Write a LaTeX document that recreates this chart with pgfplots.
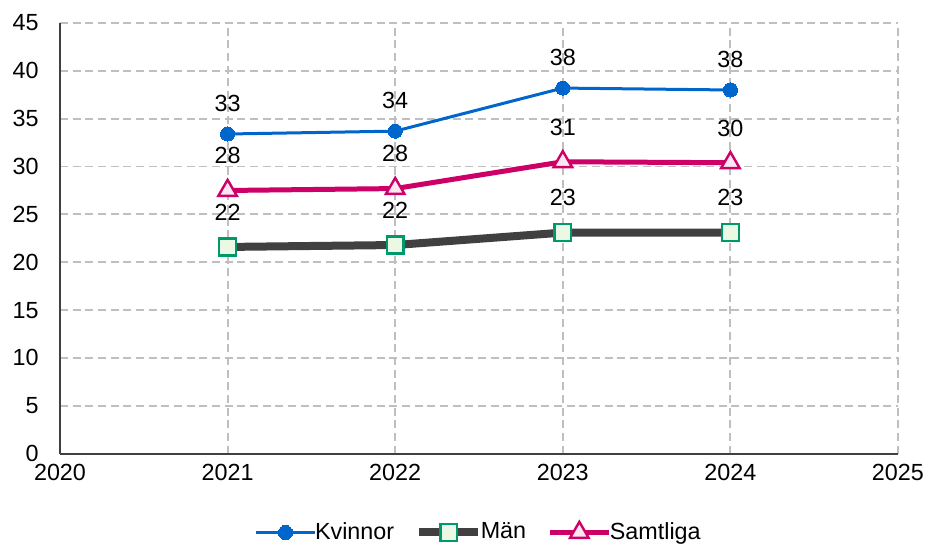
\documentclass[border=0pt]{standalone}
\usepackage{fontspec}
\setmainfont{Liberation Sans}
\usepackage{pgfplots}
\pgfplotsset{compat=1.18}
\usetikzlibrary{calc}
\definecolor{kvin}{HTML}{0066CC}
\definecolor{man}{HTML}{404040}
\definecolor{manedge}{HTML}{00996B}
\definecolor{manfill}{HTML}{EAF8E4}
\definecolor{samt}{HTML}{CC0066}
\definecolor{samtfill}{HTML}{FCE6F2}
\definecolor{gridc}{HTML}{BFBFBF}
\begin{document}
\fontsize{17.5}{20}\selectfont
\begin{tikzpicture}
\begin{axis}[
  scale only axis, width=628.5pt, height=323pt,
  xmin=2020, xmax=2025, ymin=0, ymax=45,
  xtick={2020,...,2025}, ytick={0,5,...,45},
  /pgf/number format/1000 sep={},
  /pgf/number format/assume math mode=true,
  axis x line=bottom, axis y line=left,
  axis line style={-, draw=man, line width=1.5pt},
  major tick length=0pt,
  grid=major,
  major grid style={gridc, line width=1.4pt, dash pattern=on 6pt off 3.5pt},
  tick label style={font=\fontsize{17.5}{20}\selectfont},
  xticklabel style={yshift=-2pt},
  yticklabel style={xshift=-10pt},
  point meta=explicit symbolic,
  nodes near coords,
  nodes near coords style={font=\fontsize{17.5}{20}\selectfont, anchor=center, text=black},
  legend columns=-1,
  legend style={draw=none, fill=none, at={(0.5,-0.183)}, anchor=center,
    font=\fontsize{17.5}{20}\selectfont,
    /tikz/every even column/.append style={column sep=14pt},
    /tikz/every odd column/.append style={column sep=-3pt}},
  legend image code/.code={\draw[mark repeat=2,mark phase=2] plot coordinates {(0pt,0pt)(22pt,0pt)(44pt,0pt)};},
]
\addplot[kvin, line width=2.25pt, mark=*, mark size=5.3pt, mark options={fill=kvin, draw=kvin, line width=0pt},
  every node near coord/.append style={yshift=23pt}]
  coordinates {(2021,33.4)[33] (2022,33.7)[34] (2023,38.2)[38] (2024,38.0)[38]};
\addlegendentry{Kvinnor}
\addplot[man, line width=6pt, mark=square*, mark size=6.3pt, mark options={fill=manfill, draw=manedge, line width=1.8pt},
  every node near coord/.append style={yshift=26pt}]
  coordinates {(2021,21.6)[22] (2022,21.8)[22] (2023,23.1)[23] (2024,23.1)[23]};
\addlegendentry{Män}
\addplot[samt, line width=3.75pt, mark=triangle*, mark size=8pt, mark options={fill=samtfill, draw=samt, line width=1.8pt},
  every node near coord/.append style={yshift=26pt}]
  coordinates {(2021,27.5)[28] (2022,27.7)[28] (2023,30.5)[31] (2024,30.4)[30]};
\addlegendentry{Samtliga}
\coordinate (sw) at (rel axis cs:0,0);
\coordinate (ne) at (rel axis cs:1,1);
\end{axis}
\pgfresetboundingbox
\path ($(sw)+(-45pt,-68.25pt)$) rectangle ($(ne)+(20.25pt,17.25pt)$);
\end{tikzpicture}
\end{document}
